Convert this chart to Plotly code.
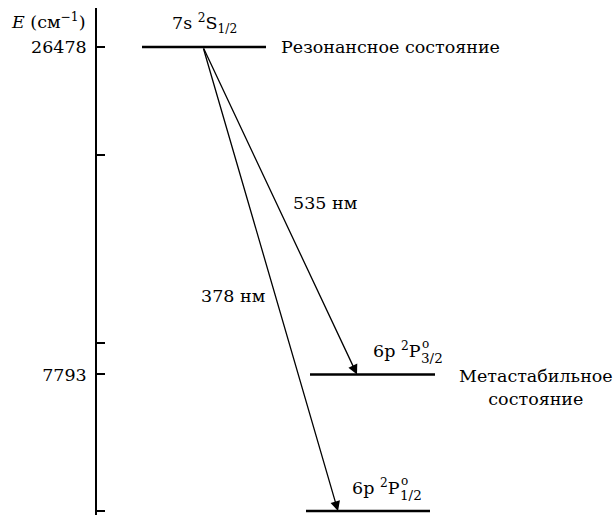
import plotly.graph_objects as go

# ---- data ----
level_energy = [26478, 7793, 0]            # cm^-1
level_names = ["Резонансное состояние", "Метастабильное<br>состояние", ""]
wavelength_labels = ["535 нм", "378 нм"]
tick_values = [0, 7793, 9590, 20320, 26478]
tick_labels = ["0", "7793", "", "", "26478"]

# ---- geometry helpers (pixel -> data) ----
W, H = 616, 519
L, R, T, B = 97, 0, 8, 4
PX_PER_UNIT = (511 - 47) / 26478.0
Y0_PX = 511
def xd(px):
    return px - L
def yd(py):
    return (Y0_PX - py) / PX_PER_UNIT

y_range = [yd(H - B), yd(T)]
x_range = [0, W - L - R]

FONT = "DejaVu Serif"
FS = 17.5
def f(size):
    return dict(family=FONT, size=size, color="black")

fig = go.Figure()

# level lines
level_x = [(142, 266), (310, 435), (306, 430)]
for (x0, x1), e in zip(level_x, level_energy):
    fig.add_trace(go.Scatter(x=[xd(x0), xd(x1)], y=[e, e], mode="lines",
                             line=dict(color="black", width=2.6),
                             hoverinfo="skip", showlegend=False))

anns = []
# transition arrows
start_x = xd(203)
tips = [(xd(357), level_energy[1]), (xd(338), level_energy[2])]
for (tx, ty) in tips:
    anns.append(dict(x=tx, y=ty, ax=start_x, ay=level_energy[0],
                     xref="x", yref="y", axref="x", ayref="y",
                     showarrow=True, arrowhead=2, arrowsize=1.5,
                     arrowwidth=1.3, arrowcolor="black", standoff=0,
                     startstandoff=0, text=""))

# wavelength labels
anns.append(dict(x=xd(325), y=yd(203), text=wavelength_labels[0], showarrow=False, font=f(FS)))
anns.append(dict(x=xd(233), y=yd(296), text=wavelength_labels[1], showarrow=False, font=f(FS)))

# level term labels (positioned relative to their level lines)
anns.append(dict(x=xd(204), y=level_energy[0], yshift=24, text="7s <sup>2</sup>S<sub>1/2</sub>",
                 showarrow=False, font=f(FS)))

def term(xp, energy, sub):
    # main part, right-anchored at xp; stacked "o" and J subscript left-anchored at xp
    anns.append(dict(x=xd(xp), y=energy, yshift=24, xanchor="right",
                     text="6p <sup>2</sup>P", showarrow=False, font=f(FS)))
    anns.append(dict(x=xd(xp), y=energy, yshift=30, xshift=-3, xanchor="left",
                     text="o", showarrow=False, font=f(12)))
    anns.append(dict(x=xd(xp), y=energy, yshift=16, xshift=-4, xanchor="left",
                     text=sub, showarrow=False, font=f(13.5)))

term(423, level_energy[1], "3/2")
term(402, level_energy[2], "1/2")

# state names
anns.append(dict(x=xd(279), y=level_energy[0], xanchor="left", text=level_names[0],
                 showarrow=False, font=f(FS)))
anns.append(dict(x=xd(536), y=level_energy[1], yshift=-13, text=level_names[1], align="center",
                 showarrow=False, font=f(FS)))

# axis title (paper coords are relative to the plot area)
anns.append(dict(x=(48 - L) / (W - L - R), y=1 - (21 - T) / (H - T - B),
                 xref="paper", yref="paper", yanchor="middle", xanchor="center",
                 text="<i>E</i> (см<sup>−1</sup>)", showarrow=False, font=f(FS)))

fig.update_layout(
    width=W, height=H,
    margin=dict(l=L, r=R, t=T, b=B, pad=0),
    paper_bgcolor="white", plot_bgcolor="white",
    showlegend=False,
    annotations=anns,
    xaxis=dict(range=x_range, visible=False, fixedrange=True),
    yaxis=dict(range=y_range, showgrid=False, zeroline=False,
               showline=True, linecolor="black", linewidth=1.5,
               ticks="inside", ticklen=8, tickwidth=1.5, tickcolor="black",
               tickvals=tick_values, ticktext=tick_labels,
               ticklabelstandoff=5, tickfont=f(FS), fixedrange=True),
)

fig.write_html("out.html")
